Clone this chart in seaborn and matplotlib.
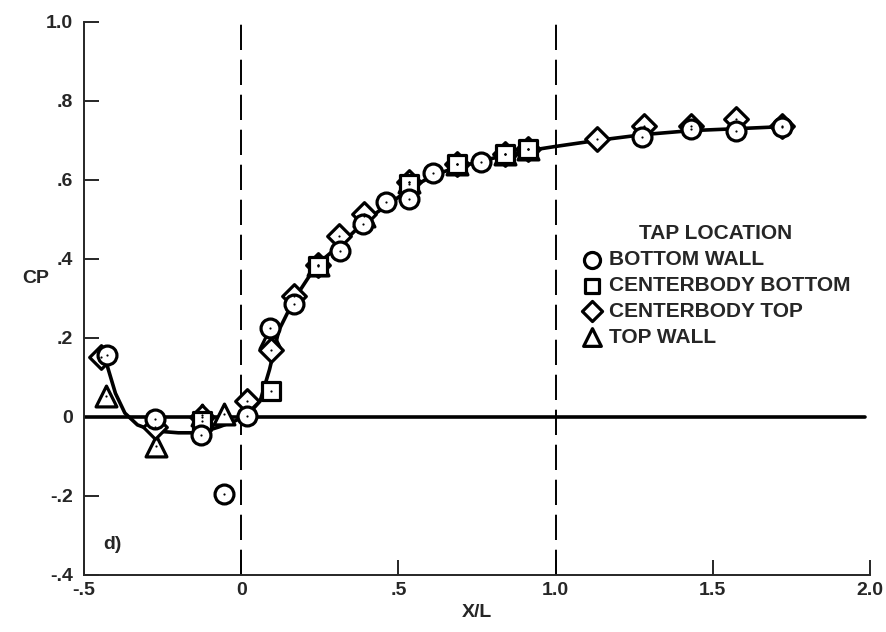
import matplotlib.pyplot as plt
import numpy as np
import pandas as pd
import seaborn as sns

# pressure taps, X/L and CP
BOTTOM_WALL_X = [-0.426, -0.275, -0.128, -0.054, 0.02, 0.09, 0.169, 0.314, 0.386, 0.46,
                 0.535, 0.61, 0.763, 1.276, 1.429, 1.573, 1.72]
BOTTOM_WALL_Y = [0.157, -0.005, -0.046, -0.195, 0.002, 0.225, 0.286, 0.421, 0.489, 0.545,
                 0.553, 0.618, 0.645, 0.708, 0.728, 0.725, 0.735]

CB_BOTTOM_X = [-0.125, 0.094, 0.243, 0.535, 0.686, 0.838, 0.912]
CB_BOTTOM_Y = [-0.01, 0.066, 0.383, 0.59, 0.64, 0.666, 0.678]

CB_TOP_X = [-0.447, -0.275, -0.125, 0.02, 0.094, 0.169, 0.243, 0.312, 0.392, 0.535,
            0.686, 0.838, 0.912, 1.131, 1.28, 1.429, 1.575, 1.72]
CB_TOP_Y = [0.152, -0.025, 0.0, 0.041, 0.17, 0.307, 0.385, 0.459, 0.514, 0.594,
            0.64, 0.666, 0.678, 0.705, 0.737, 0.736, 0.754, 0.737]

TOP_WALL_X = [-0.431, -0.272, -0.125, -0.054, 0.09, 0.243, 0.392, 0.535, 0.686, 0.838, 0.912]
TOP_WALL_Y = [0.054, -0.073, 0.005, 0.008, 0.20, 0.385, 0.51, 0.594, 0.64, 0.666, 0.678]

# faired curve drawn through the data
CURVE_X = [-0.43, -0.40, -0.37, -0.33, -0.28, -0.20, -0.13, -0.07, -0.02, 0.02, 0.06, 0.09,
           0.12, 0.17, 0.24, 0.32, 0.40, 0.48, 0.55, 0.62, 0.70, 0.80, 0.92, 1.0, 1.13,
           1.28, 1.43, 1.58, 1.72]
CURVE_Y = [0.14, 0.06, 0.01, -0.02, -0.035, -0.04, -0.04, -0.025, -0.01, 0.005, 0.04, 0.12,
           0.22, 0.30, 0.385, 0.44, 0.50, 0.545, 0.585, 0.615, 0.635, 0.655, 0.675, 0.685,
           0.70, 0.715, 0.725, 0.73, 0.735]

X_TICKS = [-0.5, 0, 0.5, 1.0, 1.5, 2.0]
X_TICK_LABELS = ['-.5', '0', '.5', '1.0', '1.5', '2.0']
Y_TICKS = [-0.4, -0.2, 0, 0.2, 0.4, 0.6, 0.8, 1.0]
Y_TICK_LABELS = ['-.4', '-.2', '0', '.2', '.4', '.6', '.8', '1.0']

series = [
    ('BOTTOM WALL', BOTTOM_WALL_X, BOTTOM_WALL_Y, 'o', 185),
    ('CENTERBODY BOTTOM', CB_BOTTOM_X, CB_BOTTOM_Y, 's', 150),
    ('CENTERBODY TOP', CB_TOP_X, CB_TOP_Y, 'D', 145),
    ('TOP WALL', TOP_WALL_X, TOP_WALL_Y, '^', 225),
]

sns.set_style('ticks')
plt.rcParams['font.family'] = ['Liberation Sans', 'DejaVu Sans']
plt.rcParams['font.weight'] = 'bold'

fig = plt.figure(figsize=(8.86, 6.32), dpi=100)
ax = fig.add_axes([0.0948, 0.0902, 0.8872, 0.875])

ax.axhline(0, xmax=0.994, color='black', lw=2.6, zorder=1)
for xv in [0, 1.0]:
    ax.axvline(xv, color='black', lw=1.4, dashes=(13, 5), zorder=1)

sns.lineplot(x=CURVE_X, y=CURVE_Y, sort=False, color='black', lw=2.6, ax=ax, zorder=2)

# draw top wall first so the circles sit on top like in the original
for name, xs, ys, mk, s in reversed(series):
    sns.scatterplot(x=xs, y=ys, marker=mk, s=s, color='white', edgecolor='black',
                    linewidth=2.3, ax=ax, label=name, zorder=3)
    sns.scatterplot(x=xs, y=ys, marker='.', s=10, color='black', edgecolor='black',
                    linewidth=0, ax=ax, zorder=4)

ax.set_xlim(-0.5, 2.0)
ax.set_ylim(-0.4, 1.0)
ax.set_xticks(X_TICKS)
ax.set_xticklabels(X_TICK_LABELS)
ax.set_yticks(Y_TICKS)
ax.set_yticklabels(Y_TICK_LABELS)
ax.tick_params(direction='in', length=11, width=1.4, labelsize=14)
ax.tick_params(axis='x', pad=5)
ax.tick_params(axis='y', pad=8)
sns.despine(ax=ax)
for sp in ['left', 'bottom']:
    ax.spines[sp].set_linewidth(1.4)

ax.set_xlabel('X/L', fontsize=14, fontweight='bold', labelpad=4)
ax.set_ylabel('CP', fontsize=14, fontweight='bold', rotation=0)
ax.yaxis.set_label_coords(-0.062, 0.52)
ax.text(-0.408, -0.324, 'd)', fontsize=14, fontweight='bold', ha='center', va='center')

handles, labels = ax.get_legend_handles_labels()
order = [labels.index(s[0]) for s in series]
leg = ax.legend([handles[i] for i in order], [labels[i] for i in order],
                title='TAP LOCATION', frameon=False, loc='upper left',
                bbox_to_anchor=(0.62, 0.653), fontsize=15, title_fontsize=15,
                handletextpad=0.3, labelspacing=0.33, borderpad=0, handlelength=1.0,
                markerscale=0.85)
leg.get_title().set_fontweight('bold')

plt.savefig('out.png', dpi=100)
